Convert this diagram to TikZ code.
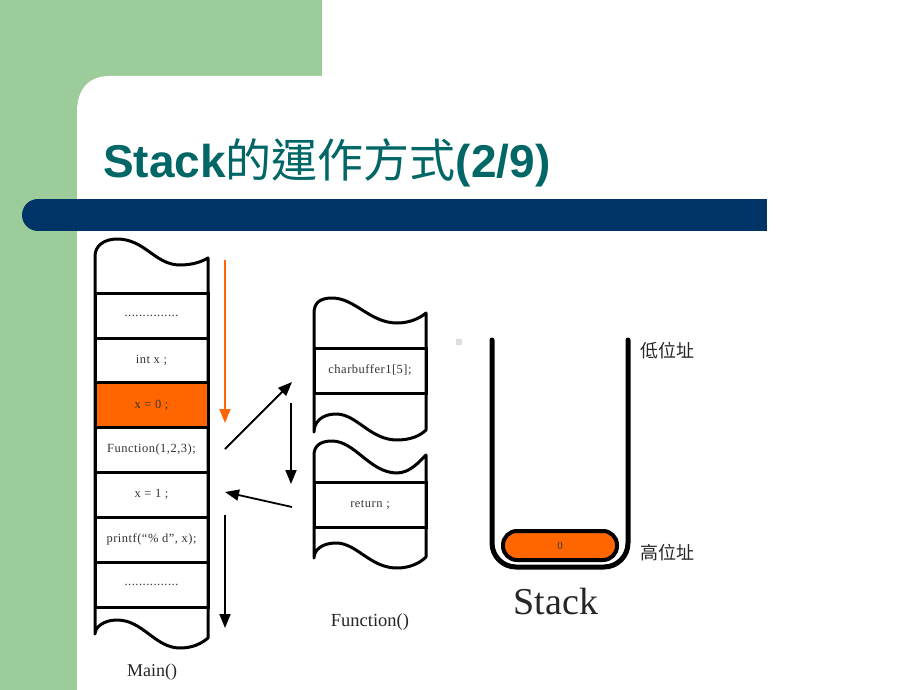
\documentclass[tikz,border=0pt]{standalone}
\usepackage{fontspec}
\setmainfont{Liberation Serif}
\newfontfamily\cjk{Noto Sans CJK TC}
\newfontfamily\titlefont{Liberation Sans}
\newfontfamily\boxfont[LetterSpace=4]{Liberation Serif}
\usetikzlibrary{arrows.meta}
\definecolor{bggreen}{RGB}{156,204,153}
\definecolor{titleteal}{RGB}{0,102,102}
\definecolor{navybar}{RGB}{0,51,102}
\definecolor{orng}{RGB}{255,102,0}
\tikzset{
  frame/.style={draw=black, line width=3pt, fill=white, line join=round},
  row/.style={draw=black, line width=3pt, minimum width=113pt, minimum height=45pt, inner sep=0pt,
    font=\boxfont\fontsize{12.5}{13}\selectfont, text=black!80},
  frow/.style={row, minimum width=112pt},
  arr/.style={line width=1.8pt, -{Triangle[width=11pt,length=14pt]}},
  lbl/.style={inner sep=0pt, text=black!85},
}
\begin{document}
\begin{tikzpicture}[x=1pt,y=-1pt]
\useasboundingbox (0,0) rectangle (920,690);
% background
\fill[white] (0,0) rectangle (920,690);
\fill[bggreen] (0,0) rectangle (322,76);
\fill[bggreen] (0,0) rectangle (77,690);
\fill[bggreen] (76,75) rectangle (112,114);
\fill[white] (77,690) -- (77,112) .. controls (77,88) and (90,76) .. (109,76) -- (920,76) -- (920,690) -- cycle;
% title
\node[anchor=base west, inner sep=0pt, text=titleteal] (title) at (103,177)
  {\titlefont\bfseries\fontsize{46}{46}\selectfont Stack{\cjk\mdseries 的運作方式}(2/9)};
% bar
\fill[navybar] (38,199) rectangle (767,231);
\fill[navybar] (38,215) circle[radius=16];
% main stack frame
\draw[frame] (95,300) -- (95,256) .. controls (95,246) and (104,239) .. (117,239)
  .. controls (145,239) and (155,265) .. (180,265) .. controls (192,265) and (201,262) .. (208,258)
  -- (208,638) .. controls (201,644) and (192,648) .. (180,648)
  .. controls (155,648) and (143,620) .. (117,620) .. controls (104,620) and (95,627) .. (95,634) -- cycle;
\node[row] (r1) at (151.5,315.5) {...............};
\node[row] (r2) at (151.5,360.5) {int x ;};
\node[row, fill=orng] (r3) at (151.5,405) {x = 0 ;};
\node[row] (r4) at (151.5,449.5) {Function(1,2,3);};
\node[row] (r5) at (151.5,494.5) {x = 1 ;};
\node[row] (r6) at (151.5,539.5) {printf(“\% d”, x);};
\node[row] (r7) at (151.5,584.5) {...............};
\node[lbl, font=\fontsize{18}{18}\selectfont] (mainlbl) at (152,672) {Main()};
% function frames
\draw[frame] (314,348) -- (314,313) .. controls (314,303) and (320,298) .. (332,298)
  .. controls (355,298) and (370,323) .. (397,323) .. controls (410,323) and (420,318) .. (426,313)
  -- (426,430) .. controls (420,436) and (410,440) .. (397,440)
  .. controls (370,440) and (357,414) .. (336,414) .. controls (322,414) and (314,422) .. (314,432) -- cycle;
\node[frow] (f1) at (370,370.5) {charbuffer1[5];};
\draw[frame] (314,482) -- (314,455) .. controls (314,446) and (320,441) .. (332,441)
  .. controls (355,441) and (370,473) .. (397,473) .. controls (410,473) and (420,461) .. (426,455)
  -- (426,557) .. controls (420,563) and (410,568) .. (397,568)
  .. controls (370,568) and (357,543) .. (336,543) .. controls (322,543) and (314,550) .. (314,558) -- cycle;
\node[frow] (f2) at (370,504.5) {return ;};
\node[lbl, font=\fontsize{18.5}{18.5}\selectfont] (funclbl) at (370,622) {Function()};
% arrows
\coordinate (oa1) at (225,260); \coordinate (oa2) at (225,423);
\coordinate (a1s) at (225,449); \coordinate (a1e) at (292,382);
\coordinate (a2s) at (291,403); \coordinate (a2e) at (291,484);
\coordinate (a3s) at (292,507); \coordinate (a3e) at (225,492);
\coordinate (a4s) at (225,515); \coordinate (a4e) at (225,628);
\draw[arr, draw=orng, fill=orng] (oa1) -- (oa2);
\draw[arr] (a1s) -- (a1e);
\draw[arr] (a2s) -- (a2e);
\draw[arr] (a3s) -- (a3e);
\draw[arr] (a4s) -- (a4e);
% stack container
\fill[black!13] (456,339) rectangle (462,345);
\draw[line width=5pt, line cap=round, rounded corners=24] (492,340) -- (492,567) -- (628,567) -- (628,340);
\node[draw=black, line width=4pt, fill=orng, rounded corners=14pt, minimum width=114pt, minimum height=29pt,
  inner sep=0pt, font=\fontsize{11}{11}\selectfont, text=black!80] (pill) at (560,545.5) {0};
\node[lbl, font=\fontsize{38}{38}\selectfont] (stacklbl) at (556,601) {Stack};
\node[lbl, anchor=west, font=\cjk\fontsize{18}{18}\selectfont] (low) at (640,351) {低位址};
\node[lbl, anchor=west, font=\cjk\fontsize{18}{18}\selectfont] (high) at (640,553) {高位址};
\end{tikzpicture}
\end{document}
